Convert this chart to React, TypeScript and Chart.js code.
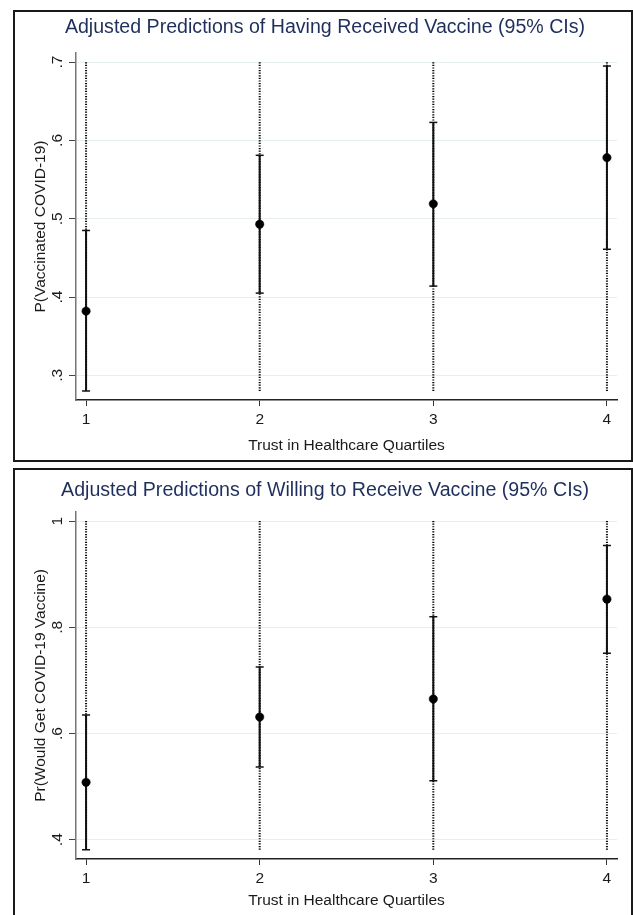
import React, { useEffect, useRef } from "react";
import { Chart, registerables } from "chart.js";

Chart.register(...registerables);

// ---------- data ----------
const quartiles = [1, 2, 3, 4];
const quartileTicks = [1, 2, 3, 4];

const vaccinatedEst = [0.382, 0.493, 0.519, 0.578];
const vaccinatedLo = [0.28, 0.405, 0.414, 0.461];
const vaccinatedHi = [0.485, 0.581, 0.623, 0.695];
const vaccinatedTicks = [0.3, 0.4, 0.5, 0.6, 0.7];
const vaccinatedSpan = [0.28, 0.7];

const willingEst = [0.508, 0.631, 0.665, 0.853];
const willingLo = [0.381, 0.537, 0.511, 0.751];
const willingHi = [0.635, 0.725, 0.82, 0.954];
const willingTicks = [0.4, 0.6, 0.8, 1.0];
const willingSpan = [0.381, 1.0];

const FONT = "'Liberation Sans', Arial, Helvetica, sans-serif";
const TITLE_COLOR = "#1f2f5c";

function fmt(v: number): string {
  const s = String(+Number(v).toFixed(2));
  return s.replace(/^0\./, ".");
}

type PanelCfg = {
  title: string;
  yTitle: string;
  est: number[];
  lo: number[];
  hi: number[];
  yTicks: number[];
  span: number[];
  yMin: number;
  yMax: number;
  titlePad: { top: number; bottom: number };
  xHeight: number;
  xTitlePadBottom: number;
};

function Panel({ cfg, top }: { cfg: PanelCfg; top: number }) {
  const ref = useRef<HTMLCanvasElement | null>(null);
  useEffect(() => {
    if (!ref.current) return;
    const datasets: any[] = [];
    datasets.push({
      label: "est",
      data: quartiles.map((q, i) => ({ x: q, y: cfg.est[i] })),
      pointRadius: 4.2,
      pointBackgroundColor: "#000",
      pointBorderColor: "#000",
      pointBorderWidth: 0.5,
      showLine: false,
      order: 0,
    });
    quartiles.forEach((q, i) => {
      datasets.push({
        label: "ci" + q,
        data: [
          { x: q, y: cfg.lo[i] },
          { x: q, y: cfg.hi[i] },
        ],
        showLine: true,
        borderColor: "#111",
        borderWidth: 2,
        pointStyle: "line",
        pointRadius: 4,
        pointBorderColor: "#111",
        pointBorderWidth: 1.5,
        order: 1,
      });
      datasets.push({
        label: "spike" + q,
        data: [
          { x: q, y: cfg.span[0] },
          { x: q, y: cfg.span[1] },
        ],
        showLine: true,
        borderColor: "#000",
        borderWidth: 2,
        borderDash: [1.2, 1.4],
        pointRadius: 0,
        order: 2,
      });
    });

    const chart = new Chart(ref.current, {
      type: "scatter",
      data: { datasets },
      options: {
        animation: false,
        responsive: false,
        maintainAspectRatio: false,
        events: [],
        layout: { padding: { left: 18, right: 14, top: 0, bottom: 0 } },
        plugins: {
          legend: { display: false },
          tooltip: { enabled: false },
          title: {
            display: true,
            text: cfg.title,
            color: TITLE_COLOR,
            font: { family: FONT, size: 19.6, weight: "normal", lineHeight: 1.2 },
            padding: cfg.titlePad,
          },
        },
        scales: {
          x: {
            type: "linear",
            min: 0.942,
            max: 4.058,
            afterBuildTicks: (scale: any) => {
              scale.ticks = quartileTicks.map((v) => ({ value: v }));
            },
            afterFit: (scale: any) => {
              scale.height = cfg.xHeight;
            },
            ticks: {
              autoSkip: false,
              color: "#1a1a1a",
              padding: 4,
              font: { family: FONT, size: 15.5 },
              callback: (v: any) => String(v),
            },
            grid: {
              drawOnChartArea: false,
              tickColor: "#333",
              tickLength: 6,
            },
            border: { color: "#222", width: 1.5 },
            title: {
              display: true,
              text: "Trust in Healthcare Quartiles",
              color: "#1a1a1a",
              font: { family: FONT, size: 15.5, lineHeight: 1 },
              padding: { top: 0, bottom: cfg.xTitlePadBottom },
            },
          },
          y: {
            type: "linear",
            min: cfg.yMin,
            max: cfg.yMax,
            afterBuildTicks: (scale: any) => {
              scale.ticks = cfg.yTicks.map((v) => ({ value: v }));
            },
            afterFit: (scale: any) => {
              scale.width = 43;
            },
            ticks: {
              autoSkip: false,
              color: "#1a1a1a",
              padding: 4.5,
              minRotation: 90,
              maxRotation: 90,
              crossAlign: "center",
              font: { family: FONT, size: 15.5 },
              callback: (v: any) => fmt(v),
            },
            grid: {
              color: "#e6eef0",
              lineWidth: 1,
              tickColor: "#444",
              tickLength: 7,
            },
            border: { color: "#777", width: 1.5 },
            title: {
              display: true,
              text: cfg.yTitle,
              color: "#1a1a1a",
              font: { family: FONT, size: 15.5, lineHeight: 1 },
              padding: { top: 0.3, bottom: 0 },
            },
          },
        },
      } as any,
    });
    return () => chart.destroy();
  }, [cfg]);

  return (
    <div
      style={{
        position: "absolute",
        left: 13,
        top,
        width: 620,
        height: 452,
        border: "2px solid #1a1a1a",
        boxSizing: "border-box",
        background: "#fff",
      }}
    >
      <canvas ref={ref} width={616} height={448} style={{ display: "block", width: 616, height: 448 }} />
    </div>
  );
}

const panel1: PanelCfg = {
  title: "Adjusted Predictions of Having Received Vaccine (95% CIs)",
  yTitle: "P(Vaccinated COVID-19)",
  est: vaccinatedEst,
  lo: vaccinatedLo,
  hi: vaccinatedHi,
  yTicks: vaccinatedTicks,
  span: vaccinatedSpan,
  yMin: 0.2685,
  yMax: 0.7115,
  titlePad: { top: 4, bottom: 13.6 },
  xHeight: 60,
  xTitlePadBottom: 6.8,
};

const panel2: PanelCfg = {
  title: "Adjusted Predictions of Willing to Receive Vaccine (95% CIs)",
  yTitle: "Pr(Would Get COVID-19 Vaccine)",
  est: willingEst,
  lo: willingLo,
  hi: willingHi,
  yTicks: willingTicks,
  span: willingSpan,
  yMin: 0.3636,
  yMax: 1.0175,
  titlePad: { top: 9, bottom: 9.3 },
  xHeight: 59,
  xTitlePadBottom: 9.5,
};

export default function App() {
  return (
    <div
      style={{
        position: "absolute",
        left: 0,
        top: 0,
        width: 633,
        height: 915,
        background: "#fff",
        overflow: "hidden",
      }}
    >
      <Panel cfg={panel1} top={10} />
      <Panel cfg={panel2} top={468} />
    </div>
  );
}
